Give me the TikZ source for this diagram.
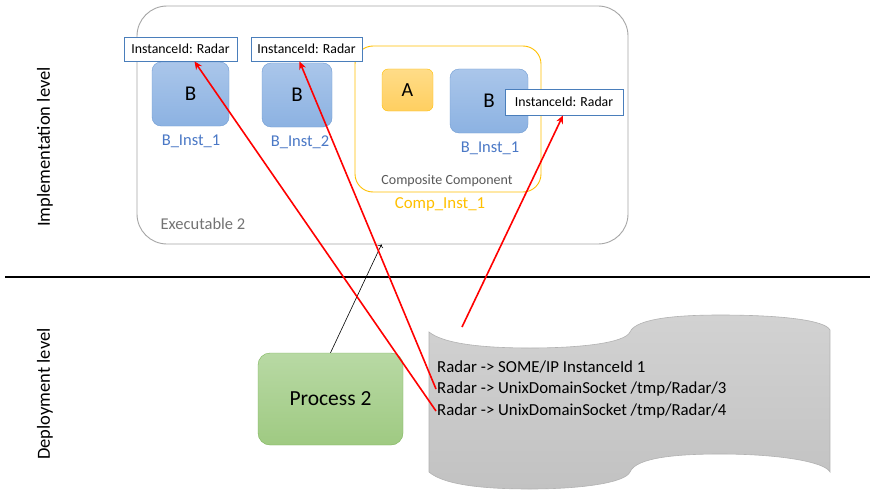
\documentclass[tikz,border=0pt]{standalone}
\usepackage{fontspec}
\setmainfont{Carlito}
\usetikzlibrary{positioning,arrows.meta,calc}

\definecolor{bTop}{HTML}{AAC6EA}
\definecolor{bBot}{HTML}{8CB2E2}
\definecolor{bLine}{HTML}{6F9BD3}
\definecolor{nameBlue}{HTML}{4A78C6}
\definecolor{lblLine}{HTML}{4A7EBB}
\definecolor{compYellow}{HTML}{FFC000}
\definecolor{aTop}{HTML}{FFDC88}
\definecolor{aBot}{HTML}{FFCF60}
\definecolor{gTop}{HTML}{B8D9A4}
\definecolor{gBot}{HTML}{9FCA82}
\definecolor{gLine}{HTML}{7DB55A}
\definecolor{tapeTop}{HTML}{D2D2D2}
\definecolor{tapeBot}{HTML}{C2C2C2}

\begin{document}
\begin{tikzpicture}[x=1pt,y=-1pt,node distance=22pt,
	comp/.style={draw=bLine, rounded corners=9pt, top color=bTop, bottom color=bBot,
		minimum height=64pt, font=\fontsize{21}{24}\selectfont},
	instlbl/.style={draw=lblLine, fill=white, line width=0.8pt, minimum height=24pt,
		inner sep=2pt, font=\fontsize{13.8}{15}\selectfont},
	instname/.style={text=nameBlue, font=\fontsize{16.5}{18}\selectfont},
	tapeline/.style={anchor=west, inner sep=1pt, font=\fontsize{16.8}{19}\selectfont},
	redarrow/.style={draw=red, line width=1.6pt, -{Stealth[length=8pt,width=7pt]}},
	levellbl/.style={rotate=90, font=\fontsize{18.5}{20}\selectfont}]
	\useasboundingbox[fill=white] (0,0) rectangle (891,495);

	% implementation level
	\node[draw=black!35, line width=0.9pt, rounded corners=30pt,
		minimum width=491pt, minimum height=238pt] (exe) at (382.5,125) {};
	\node[text=black!55, font=\fontsize{16.5}{18}\selectfont] (exelbl) at (203,224) {Executable 2};

	\node[draw=compYellow, line width=0.9pt, rounded corners=18pt,
		minimum width=186pt, minimum height=146pt] (cmp) at (448,119) {};
	\node[text=black!65, font=\fontsize{14}{16}\selectfont] (cmplbl) at (447,181) {Composite Component};
	\node[text=compYellow, font=\fontsize{16.8}{19}\selectfont] (cmpname) at (440,204) {Comp\_Inst\_1};

	\node[comp, minimum width=77pt] (b1) at (190.5,94) {B};
	\node[comp, minimum width=70pt] (b2) at (297,95) {B};
	\node[comp, minimum width=78pt] (b3) at (489,101) {B};
	\node[draw=compYellow, rounded corners=6pt, top color=aTop, bottom color=aBot,
		minimum width=51pt, minimum height=42pt, font=\fontsize{20}{22}\selectfont] (a) at (407.5,90) {A};

	\node[instname] (b1name) at (191,141) {B\_Inst\_1};
	\node[instname] (b2name) at (300,142) {B\_Inst\_2};
	\node[instname] (b3name) at (490,148) {B\_Inst\_1};

	\node[instlbl, minimum width=113pt] (lbl1) at (180.5,49) {InstanceId: Radar};
	\node[instlbl, minimum width=111pt] (lbl2) at (306.5,49) {InstanceId: Radar};
	\node[instlbl, minimum width=118pt, minimum height=26pt] (lbl3) at (564,102) {InstanceId: Radar};

	% level separator
	\draw[line width=1.4pt] (5,277) -- (870,277);
	\node[levellbl] (impl) at (45,147) {Implementation level};
	\node[levellbl] (depl) at (45,394) {Deployment level};

	% deployment level
	\node[draw=gLine, rounded corners=12pt, top color=gTop, bottom color=gBot,
		minimum width=145pt, minimum height=92pt, font=\fontsize{21.5}{24}\selectfont] (proc) at (330.5,399) {Process 2};

	\shade[top color=tapeTop, bottom color=tapeBot, draw=black!30, line width=0.6pt]
		(429,332) .. controls (445,345) and (490,348) .. (530,348)
		.. controls (580,348) and (625,343) .. (630,332)
		.. controls (636,318) and (680,315) .. (720,315)
		.. controls (780,315) and (825,320) .. (830,330) -- (830,472)
		.. controls (825,462) and (780,454) .. (720,454)
		.. controls (680,454) and (636,457) .. (630,472)
		.. controls (625,483) and (580,489) .. (530,489)
		.. controls (490,489) and (445,486) .. (429,472) -- cycle;

	\node[tapeline] (line1) at (436,367) {Radar -> SOME/IP InstanceId 1};
	\node[tapeline] (line2) [below=of line1.west, anchor=west] {Radar -> UnixDomainSocket /tmp/Radar/3};
	\node[tapeline] (line3) [below=of line2.west, anchor=west] {Radar -> UnixDomainSocket /tmp/Radar/4};
	\coordinate (tapetop) at (462,327);

	% connections
	\path (proc.north) edge[->, draw=black, line width=0.6pt] ($(exe.south)+(-1,0)$);
	\path (line3.west) edge[redarrow] ($(lbl1.south)+(14,0)$)
		(line2.west) edge[redarrow] ($(lbl2.south)+(-7,0)$)
		(tapetop) edge[redarrow] ($(lbl3.south)+(-1,0)$);
\end{tikzpicture}
\end{document}
